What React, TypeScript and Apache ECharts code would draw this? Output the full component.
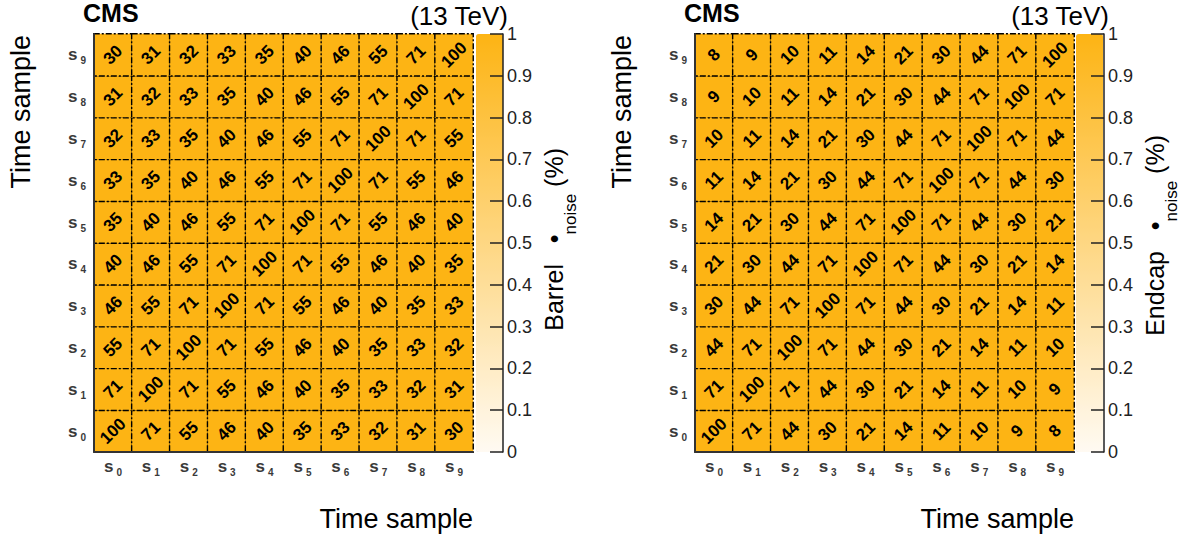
import React, { useEffect, useRef } from "react";
import * as echarts from "echarts";

const samples = ["s0", "s1", "s2", "s3", "s4", "s5", "s6", "s7", "s8", "s9"];

// rows indexed by y sample (s0 .. s9), columns by x sample (s0 .. s9)
const barrelRows: number[][] = [
  [100, 71, 55, 46, 40, 35, 33, 32, 31, 30],
  [71, 100, 71, 55, 46, 40, 35, 33, 32, 31],
  [55, 71, 100, 71, 55, 46, 40, 35, 33, 32],
  [46, 55, 71, 100, 71, 55, 46, 40, 35, 33],
  [40, 46, 55, 71, 100, 71, 55, 46, 40, 35],
  [35, 40, 46, 55, 71, 100, 71, 55, 46, 40],
  [33, 35, 40, 46, 55, 71, 100, 71, 55, 46],
  [32, 33, 35, 40, 46, 55, 71, 100, 71, 55],
  [31, 32, 33, 35, 40, 46, 55, 71, 100, 71],
  [30, 31, 32, 33, 35, 40, 46, 55, 71, 100],
];

const endcapRows: number[][] = [
  [100, 71, 44, 30, 21, 14, 11, 10, 9, 8],
  [71, 100, 71, 44, 30, 21, 14, 11, 10, 9],
  [44, 71, 100, 71, 44, 30, 21, 14, 11, 10],
  [30, 44, 71, 100, 71, 44, 30, 21, 14, 11],
  [21, 30, 44, 71, 100, 71, 44, 30, 21, 14],
  [14, 21, 30, 44, 71, 100, 71, 44, 30, 21],
  [11, 14, 21, 30, 44, 71, 100, 71, 44, 30],
  [10, 11, 14, 21, 30, 44, 71, 100, 71, 44],
  [9, 10, 11, 14, 21, 30, 44, 71, 100, 71],
  [8, 9, 10, 11, 14, 21, 30, 44, 71, 100],
];

const colorbarMin = 0;
const colorbarMax = 1;
const colorbarStep = 0.1;

const FONT = "'Liberation Sans', Arial, Helvetica, sans-serif";

function toCells(rows: number[][]) {
  const out: number[][] = [];
  rows.forEach((row, y) => row.forEach((v, x) => out.push([x, y, v])));
  return out;
}

const sampleLabel = (v: string) => `{s|s}{n|${v.slice(1)}}`;
const sampleRich = {
  s: { fontFamily: FONT, fontSize: 17, fontWeight: "bold", color: "#3a3a3a", lineHeight: 18 },
  n: { fontFamily: FONT, fontSize: 10, fontWeight: "bold", color: "#3a3a3a", lineHeight: 10, padding: [12, 0, 0, 3] },
};

export default function App() {
  const ref = useRef<HTMLDivElement>(null);
  useEffect(() => {
    document.body.style.margin = "0";
    const chart = echarts.init(ref.current!, null, { renderer: "svg" });

    const grids = [
      { left: 94, top: 34, width: 379, height: 418 },
      { left: 695, top: 34, width: 379, height: 418 },
      { left: 476, top: 34, width: 27, height: 418 },
      { left: 1076, top: 34, width: 28, height: 418 },
    ];

    const mainX = (gi: number) => ({
      type: "category",
      gridIndex: gi,
      data: samples,
      z: 5,
      axisLine: { show: true, lineStyle: { color: "#333", width: 2 } },
      axisTick: { show: false },
      splitLine: { show: false },
      axisLabel: { interval: 0, margin: 5, formatter: sampleLabel, rich: sampleRich },
    });
    const mainY = (gi: number) => ({
      type: "category",
      gridIndex: gi,
      data: samples,
      z: 5,
      axisLine: { show: true, lineStyle: { color: "#333", width: 2 } },
      axisTick: { show: false },
      splitLine: { show: false },
      axisLabel: { interval: 0, margin: 8, formatter: sampleLabel, rich: sampleRich },
    });
    const barX = (gi: number) => ({ type: "value", gridIndex: gi, show: false, min: 0, max: 1 });
    const barY = (gi: number) => ({
      type: "value",
      gridIndex: gi,
      position: "right",
      min: colorbarMin,
      max: colorbarMax,
      interval: colorbarStep,
      z: 10,
      axisLine: { show: true, onZero: false, lineStyle: { color: "#222", width: 1.5 } },
      axisTick: { show: true, inside: true, length: 13, lineStyle: { color: "#222", width: 1.5 } },
      splitLine: { show: false },
      axisLabel: {
        margin: 4,
        fontFamily: FONT,
        fontSize: 18,
        color: "#222",
        formatter: (v: number) => (v === 0 ? "0" : v === 1 ? "1" : v.toFixed(1)),
      },
    });

    const heat = (xi: number, rows: number[][]) => ({
      type: "heatmap",
      xAxisIndex: xi,
      yAxisIndex: xi,
      data: toCells(rows),
      itemStyle: { borderColor: "#000", borderWidth: 1.4, borderType: [6, 2, 2, 2] },
      label: {
        show: true,
        rotate: 45,
        fontFamily: FONT,
        fontSize: 17,
        fontWeight: "bold",
        color: "#000",
        formatter: (p: any) => String(p.value[2]),
      },
      emphasis: { disabled: true },
    });

    const vm = (si: number, left: number) => ({
      type: "continuous",
      seriesIndex: si,
      dimension: 2,
      min: colorbarMin,
      max: colorbarMax,
      left,
      top: 34,
      padding: 0,
      z: 1,
      itemWidth: 27,
      itemHeight: 418,
      calculable: false,
      hoverLink: false,
      orient: "vertical",
      inRange: { color: ["#fffaf2", "#fdb414"] },
    });

    const texts = (dx: number, title: string, endY: number, cx: number) => [
      {
        type: "text",
        x: 83 + dx,
        y: 13,
        style: { text: "CMS", font: `bold 25px ${FONT}`, fill: "#000", textAlign: "left", textVerticalAlign: "middle" },
      },
      {
        type: "text",
        x: 508 + dx,
        y: 16,
        style: { text: "(13 TeV)", font: `26px ${FONT}`, fill: "#000", textAlign: "right", textVerticalAlign: "middle" },
      },
      {
        type: "text",
        x: 473 + dx,
        y: 519,
        style: { text: "Time sample", font: `27px ${FONT}`, fill: "#000", textAlign: "right", textVerticalAlign: "middle" },
      },
      {
        type: "text",
        x: 21 + dx,
        y: 35,
        rotation: Math.PI / 2,
        style: { text: "Time sample", font: `27px ${FONT}`, fill: "#000", textAlign: "right", textVerticalAlign: "middle" },
      },
      {
        type: "text",
        x: cx,
        y: endY,
        rotation: Math.PI / 2,
        style: {
          text: `{m|${title}   •}{sub|noise}{m| (%)}`,
          textAlign: "right",
          textVerticalAlign: "middle",
          rich: {
            m: { fontFamily: FONT, fontSize: 25, fill: "#000", lineHeight: 26 },
            sub: { fontFamily: FONT, fontSize: 17, fill: "#000", lineHeight: 17, padding: [33, 0, 0, 0] },
          },
        },
      },
    ];

    chart.setOption({
      animation: false,
      grid: grids,
      xAxis: [mainX(0), mainX(1), barX(2), barX(3)],
      yAxis: [mainY(0), mainY(1), barY(2), barY(3)],
      visualMap: [vm(0, 476), vm(1, 1076)],
      series: [heat(0, barrelRows), heat(1, endcapRows)],
      graphic: [...texts(0, "Barrel", 148, 554), ...texts(601, "Endcap", 135, 1155)],
    });
    return () => chart.dispose();
  }, []);
  return <div ref={ref} style={{ width: 1189, height: 539 }} />;
}
